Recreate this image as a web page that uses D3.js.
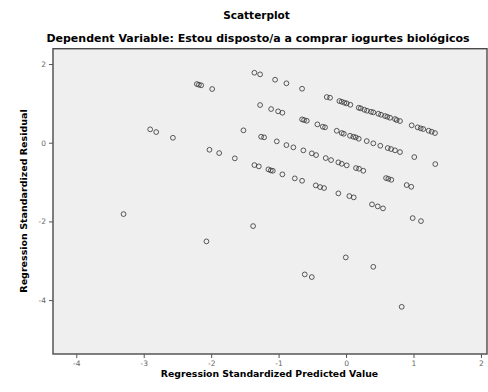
<!DOCTYPE html>
<html lang="en">

<head>
    <meta charset="UTF-8">
    <title>Scatterplot</title>
    <script src="https://cdn.jsdelivr.net/npm/d3@7"></script>
    <style>
        body {
            margin: 0;
            background: #fff;
        }

        text {
            font-family: "DejaVu Sans", sans-serif;
        }
    </style>
</head>

<body>
    <script>
        'use strict';

        // regression standardized predicted value (x)
        var predicted = [-1.359, -1.274, -1.052, -0.884, -0.652, -2.212, -2.182, -2.148, -1.985,
            -1.274, -1.111, -1.007, -0.944, -0.652, -0.622, -0.582, -0.425,
            -2.904, -2.815, -2.567, -1.521, -1.259, -1.215, -1.027, -0.884, -0.781, -0.633, -0.508, -0.444,
            -2.025, -1.881, -1.649, -1.359, -1.293, -1.151, -1.116, -1.086, -0.944, -0.760, -0.652,
            -0.449, -0.385, -0.326,
            -0.286, -0.237, -0.099, -0.064, -0.025, 0.010, 0.064,
            0.188, 0.218, 0.271, 0.311, 0.370, 0.404, 0.479, 0.519, 0.578, 0.612, 0.652, 0.726, 0.751, 0.800,
            0.973, 1.062, 1.107, 1.145, 1.225, 1.270, 1.319,
            -0.345, -0.311, -0.138, -0.064, -0.034, 0.059, 0.108, 0.144, 0.188, 0.307, 0.404, 0.508,
            0.618, 0.667, 0.726, 0.800, 1.012, 1.323,
            -0.301, -0.222, -0.114, -0.064, 0.010, 0.148, 0.193, 0.256, 0.593, 0.627, 0.671, 0.899, 0.967,
            -0.114, 0.049, 0.114, 0.385, 0.470, 0.548, 0.988, 1.111,
            -1.378, -2.070, -0.004, -0.612, -0.508, 0.404, 0.825, -3.299
        ];
        // regression standardized residual (y)
        var residual = [1.779, 1.738, 1.601, 1.510, 1.372, 1.492, 1.474, 1.459, 1.365,
            0.958, 0.856, 0.798, 0.762, 0.594, 0.576, 0.558, 0.467,
            0.340, 0.271, 0.126, 0.315, 0.152, 0.137, 0.035, -0.060, -0.118, -0.194, -0.270, -0.314,
            -0.179, -0.263, -0.397, -0.568, -0.601, -0.677, -0.703, -0.713, -0.804, -0.906, -0.967,
            -1.084, -1.127, -1.152,
            1.161, 1.143, 1.059, 1.042, 1.016, 1.001, 0.965,
            0.889, 0.874, 0.838, 0.813, 0.787, 0.772, 0.737, 0.711, 0.678, 0.660, 0.635, 0.602, 0.576, 0.551,
            0.442, 0.391, 0.366, 0.348, 0.305, 0.279, 0.246,
            0.406, 0.391, 0.304, 0.246, 0.228, 0.177, 0.152, 0.137, 0.101, 0.042, -0.016, -0.077,
            -0.135, -0.161, -0.194, -0.237, -0.365, -0.543,
            -0.390, -0.441, -0.499, -0.535, -0.575, -0.644, -0.662, -0.713, -0.898, -0.916, -0.942, -1.076, -1.120,
            -1.287, -1.356, -1.389, -1.567, -1.618, -1.669, -1.916, -1.992,
            -2.119, -2.508, -2.915, -3.347, -3.415, -3.154, -4.171, -1.814
        ];

        var xTicks = [-4, -3, -2, -1, 0, 1, 2];
        var yTicks = [2, 0, -2, -4];

        var w = 488,
            h = 392,
            pleft = 53,
            pright = 487,
            ptop = 48.7,
            pbottom = 354;

        var points = predicted.map(function(p, i) {
            return { x: p, y: residual[i] };
        });

        var svg = d3.select('body')
            .append('svg')
            .attr('width', w)
            .attr('height', h);

        var xsc = d3.scaleLinear()
            .domain([-4.345, 2.09])
            .range([pleft, pright]);

        var ysc = d3.scaleLinear()
            .domain([2.39, -5.37])
            .range([ptop, pbottom]);

        // plot background
        svg.append('rect')
            .attr('x', pleft)
            .attr('y', ptop)
            .attr('width', pright - pleft)
            .attr('height', pbottom - ptop)
            .style('fill', '#efefef')
            .style('stroke', '#4a4a4a')
            .style('stroke-width', 1.4);

        var fmt = function(d) {
            return d < 0 ? '-' + Math.abs(d) : d;
        };

        var axB = svg.append('g')
            .attr('transform', 'translate(0,' + pbottom + ')')
            .call(d3.axisBottom(xsc).tickValues(xTicks).tickSize(4).tickFormat(fmt));

        var axL = svg.append('g')
            .attr('transform', 'translate(' + pleft + ',0)')
            .call(d3.axisLeft(ysc).tickValues(yTicks).tickSize(4).tickFormat(fmt));

        [axB, axL].forEach(function(ax) {
            ax.select('.domain').remove();
            ax.selectAll('line').style('stroke', '#555');
            ax.selectAll('text')
                .style('font-family', '"DejaVu Sans", sans-serif')
                .style('font-size', '7.5px')
                .style('fill', '#666');
        });

        svg.append('g')
            .selectAll('circle')
            .data(points)
            .enter()
            .append('circle')
            .attr('cx', function(d) { return xsc(d.x); })
            .attr('cy', function(d) { return ysc(d.y); })
            .attr('r', 2.4)
            .style('fill', 'none')
            .style('stroke', '#333')
            .style('stroke-opacity', 0.8)
            .style('stroke-width', 1);

        svg.append('text')
            .attr('x', 256.5)
            .attr('y', 19)
            .attr('text-anchor', 'middle')
            .style('font-weight', 'bold')
            .style('font-size', '10.5px')
            .text('Scatterplot');

        svg.append('text')
            .attr('x', 258)
            .attr('y', 42)
            .attr('text-anchor', 'middle')
            .style('font-weight', 'bold')
            .style('font-size', '11px')
            .text('Dependent Variable: Estou disposto/a a comprar iogurtes biológicos');

        svg.append('text')
            .attr('x', 269.5)
            .attr('y', 377)
            .attr('text-anchor', 'middle')
            .style('font-weight', 'bold')
            .style('font-size', '9.3px')
            .text('Regression Standardized Predicted Value');

        svg.append('text')
            .attr('transform', 'translate(27,201) rotate(-90)')
            .attr('text-anchor', 'middle')
            .style('font-weight', 'bold')
            .style('font-size', '9.5px')
            .text('Regression Standardized Residual');
    </script>
</body>

</html>
